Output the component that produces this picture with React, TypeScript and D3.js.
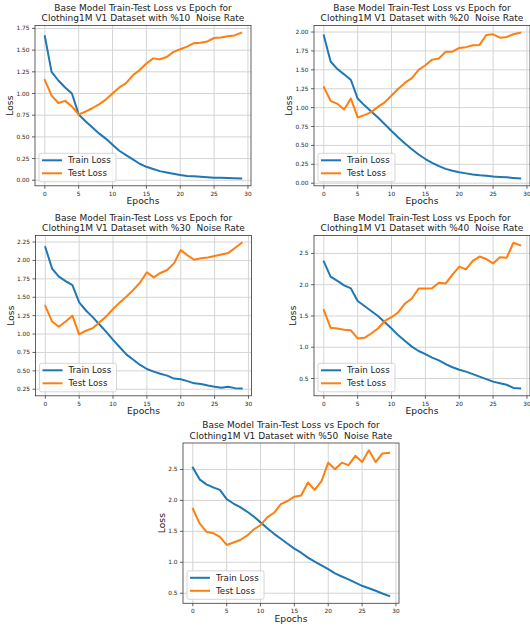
import React from "react";
import * as d3 from "d3";

// Epoch indices shared by every run
const EPOCHS = [0, 1, 2, 3, 4, 5, 6, 7, 8, 9, 10, 11, 12, 13, 14, 15, 16, 17, 18, 19, 20, 21, 22, 23, 24, 25, 26, 27, 28, 29];

// Noise rate labels, one per run
const NOISE_RATES = ["%10", "%20", "%30", "%40", "%50"];

// Loss curves per noise rate
const TRAIN_10 = [1.66, 1.25, 1.15, 1.07, 1.0, 0.76, 0.68, 0.61, 0.54, 0.48, 0.41, 0.34, 0.29, 0.24, 0.19, 0.155, 0.13, 0.105, 0.09, 0.075, 0.06, 0.05, 0.045, 0.04, 0.035, 0.03, 0.028, 0.025, 0.022, 0.02];
const TEST_10 = [1.155, 0.975, 0.89, 0.915, 0.85, 0.76, 0.79, 0.83, 0.875, 0.93, 1.0, 1.07, 1.12, 1.21, 1.27, 1.345, 1.405, 1.395, 1.42, 1.48, 1.51, 1.54, 1.58, 1.585, 1.6, 1.64, 1.645, 1.66, 1.67, 1.7];

const TRAIN_20 = [1.955, 1.61, 1.51, 1.44, 1.365, 1.12, 1.03, 0.95, 0.87, 0.78, 0.69, 0.605, 0.525, 0.45, 0.38, 0.32, 0.27, 0.225, 0.19, 0.165, 0.145, 0.13, 0.115, 0.105, 0.1, 0.088, 0.083, 0.078, 0.07, 0.062];
const TEST_20 = [1.27, 1.09, 1.05, 0.975, 1.12, 0.87, 0.9, 0.94, 1.01, 1.07, 1.16, 1.25, 1.33, 1.39, 1.5, 1.56, 1.635, 1.65, 1.74, 1.74, 1.79, 1.8, 1.825, 1.83, 1.96, 1.97, 1.925, 1.935, 1.97, 1.99];

const TRAIN_30 = [2.18, 1.89, 1.78, 1.72, 1.665, 1.43, 1.32, 1.23, 1.13, 1.03, 0.92, 0.82, 0.72, 0.65, 0.58, 0.525, 0.49, 0.46, 0.435, 0.395, 0.385, 0.36, 0.33, 0.32, 0.3, 0.285, 0.27, 0.285, 0.265, 0.26];
const TEST_30 = [1.38, 1.17, 1.1, 1.17, 1.25, 0.995, 1.045, 1.08, 1.16, 1.24, 1.34, 1.43, 1.51, 1.6, 1.7, 1.84, 1.77, 1.83, 1.87, 1.96, 2.14, 2.07, 2.01, 2.03, 2.04, 2.06, 2.08, 2.1, 2.17, 2.24];

const TRAIN_40 = [2.37, 2.13, 2.06, 1.99, 1.94, 1.74, 1.66, 1.58, 1.5, 1.4, 1.3, 1.19, 1.1, 1.01, 0.94, 0.89, 0.835, 0.79, 0.73, 0.68, 0.64, 0.61, 0.57, 0.53, 0.49, 0.45, 0.425, 0.4, 0.35, 0.34];
const TEST_40 = [1.595, 1.31, 1.3, 1.28, 1.27, 1.14, 1.15, 1.22, 1.3, 1.42, 1.48, 1.56, 1.7, 1.78, 1.94, 1.94, 1.945, 2.03, 2.02, 2.16, 2.29, 2.245, 2.38, 2.45, 2.41, 2.34, 2.44, 2.43, 2.67, 2.63];

const TRAIN_50 = [2.53, 2.34, 2.26, 2.21, 2.17, 2.02, 1.95, 1.89, 1.82, 1.74, 1.645, 1.55, 1.46, 1.38, 1.3, 1.22, 1.155, 1.075, 1.01, 0.95, 0.89, 0.82, 0.77, 0.725, 0.67, 0.62, 0.58, 0.54, 0.495, 0.455];
const TEST_50 = [1.865, 1.63, 1.495, 1.47, 1.41, 1.28, 1.32, 1.36, 1.43, 1.53, 1.6, 1.725, 1.8, 1.94, 1.99, 2.06, 2.08, 2.29, 2.17, 2.31, 2.61, 2.505, 2.61, 2.57, 2.72, 2.62, 2.81, 2.62, 2.76, 2.77];

// Axis ticks
const X_TICKS = [0, 5, 10, 15, 20, 25, 30];
const Y_TICKS_10 = [0, 0.25, 0.5, 0.75, 1.0, 1.25, 1.5, 1.75];
const Y_TICKS_20 = [0, 0.25, 0.5, 0.75, 1.0, 1.25, 1.5, 1.75, 2.0];
const Y_TICKS_30 = [0.25, 0.5, 0.75, 1.0, 1.25, 1.5, 1.75, 2.0, 2.25];
const Y_TICKS_40 = [0.5, 1.0, 1.5, 2.0, 2.5];
const Y_TICKS_50 = [0.5, 1.0, 1.5, 2.0, 2.5];

const SERIES_NAMES = ["Train Loss", "Test Loss"];
const COLORS = ["#1f77b4", "#ff7f0e"];
const FONT = "'DejaVu Sans', Verdana, sans-serif";
const TEXT = "#222";

type Box = { left: number; right: number; top: number; bottom: number };

type PanelProps = {
  box: Box;
  noise: string;
  train: number[];
  test: number[];
  yTicks: number[];
  yFormat: string;
};

function Panel({ box, noise, train, test, yTicks, yFormat }: PanelProps) {
  const { left, right, top, bottom } = box;
  const x = d3.scaleLinear().domain([-1.45, 30.45]).range([left, right]);
  const [lo, hi] = d3.extent([...train, ...test]) as [number, number];
  const pad = (hi - lo) * 0.05;
  const y = d3.scaleLinear().domain([lo - pad, hi + pad]).range([bottom, top]);
  const fmt = d3.format(yFormat);
  const line = d3
    .line<number>()
    .x((_, i) => x(EPOCHS[i]))
    .y((d) => y(d));
  const cx = (left + right) / 2;
  const cy = (top + bottom) / 2;
  const labelOffset = yFormat === ".2f" ? 25 : 21;

  const legLeft = left + 4;
  const legTop = bottom - 4 - 28.5;

  return (
    <g>
      {/* title */}
      <text x={cx} y={top - 15} textAnchor="middle" fontSize={9} fill={TEXT} fontFamily={FONT}>
        Base Model Train-Test Loss vs Epoch for
      </text>
      <text x={cx} y={top - 4.5} textAnchor="middle" fontSize={9} fill={TEXT} fontFamily={FONT} style={{ whiteSpace: "pre" }}>
        {`Clothing1M V1 Dataset with ${noise}  Noise Rate`}
      </text>

      {/* grid */}
      {X_TICKS.map((t) => (
        <line key={"gx" + t} x1={x(t)} x2={x(t)} y1={top} y2={bottom} stroke="#d4d4d4" strokeWidth={1} />
      ))}
      {yTicks.map((t) => (
        <line key={"gy" + t} x1={left} x2={right} y1={y(t)} y2={y(t)} stroke="#d4d4d4" strokeWidth={1} />
      ))}

      {/* curves */}
      {[train, test].map((s, i) => (
        <path key={"s" + i} d={line(s) || ""} fill="none" stroke={COLORS[i]} strokeWidth={2} strokeLinejoin="round" strokeLinecap="square" />
      ))}

      {/* spines */}
      <rect x={left} y={top} width={right - left} height={bottom - top} fill="none" stroke="#3a3a3a" strokeWidth={0.8} />

      {/* x ticks */}
      {X_TICKS.map((t) => (
        <g key={"xt" + t}>
          <line x1={x(t)} x2={x(t)} y1={bottom} y2={bottom + 3} stroke="#3a3a3a" strokeWidth={0.8} />
          <text x={x(t)} y={bottom + 10} textAnchor="middle" fontSize={5.8} fill={TEXT} fontFamily={FONT}>
            {t}
          </text>
        </g>
      ))}
      {/* y ticks */}
      {yTicks.map((t) => (
        <g key={"yt" + t}>
          <line x1={left - 3} x2={left} y1={y(t)} y2={y(t)} stroke="#3a3a3a" strokeWidth={0.8} />
          <text x={left - 5.5} y={y(t)} dy="0.35em" textAnchor="end" fontSize={5.8} fill={TEXT} fontFamily={FONT}>
            {fmt(t)}
          </text>
        </g>
      ))}

      {/* axis labels */}
      <text x={cx} y={bottom + 18.5} textAnchor="middle" fontSize={9.2} fill={TEXT} fontFamily={FONT}>
        Epochs
      </text>
      <text
        transform={`translate(${left - labelOffset + 3.3},${cy}) rotate(-90)`}
        textAnchor="middle"
        fontSize={9.2}
        fill={TEXT}
        fontFamily={FONT}
      >
        Loss
      </text>

      {/* legend */}
      <rect x={legLeft} y={legTop} width={77} height={28.5} rx={2} fill="#fff" fillOpacity={0.8} stroke="#cccccc" strokeWidth={0.8} />
      {SERIES_NAMES.map((name, i) => {
        const ry = legTop + 7 + i * 13;
        return (
          <g key={name}>
            <line x1={legLeft + 3} x2={legLeft + 23} y1={ry} y2={ry} stroke={COLORS[i]} strokeWidth={2} />
            <text x={legLeft + 29} y={ry} dy="0.36em" fontSize={8.7} fill={TEXT} fontFamily={FONT}>
              {name}
            </text>
          </g>
        );
      })}
    </g>
  );
}

export default function App() {
  const panels: PanelProps[] = [
    { box: { left: 35, right: 251, top: 25.5, bottom: 185.8 }, noise: NOISE_RATES[0], train: TRAIN_10, test: TEST_10, yTicks: Y_TICKS_10, yFormat: ".2f" },
    { box: { left: 314, right: 530, top: 25.5, bottom: 185.8 }, noise: NOISE_RATES[1], train: TRAIN_20, test: TEST_20, yTicks: Y_TICKS_20, yFormat: ".2f" },
    { box: { left: 35.5, right: 251.5, top: 235.5, bottom: 395.8 }, noise: NOISE_RATES[2], train: TRAIN_30, test: TEST_30, yTicks: Y_TICKS_30, yFormat: ".2f" },
    { box: { left: 314, right: 530, top: 235.5, bottom: 395.8 }, noise: NOISE_RATES[3], train: TRAIN_40, test: TEST_40, yTicks: Y_TICKS_40, yFormat: ".1f" },
    { box: { left: 183, right: 399, top: 443, bottom: 603.3 }, noise: NOISE_RATES[4], train: TRAIN_50, test: TEST_50, yTicks: Y_TICKS_50, yFormat: ".1f" },
  ];
  return (
    <svg
      width={530}
      height={628}
      viewBox="0 0 530 628"
      style={{ position: "absolute", left: 0, top: 0, background: "#fff" }}
    >
      <rect width={530} height={628} fill="#fff" />
      {panels.map((p, i) => (
        <Panel key={i} {...p} />
      ))}
    </svg>
  );
}
